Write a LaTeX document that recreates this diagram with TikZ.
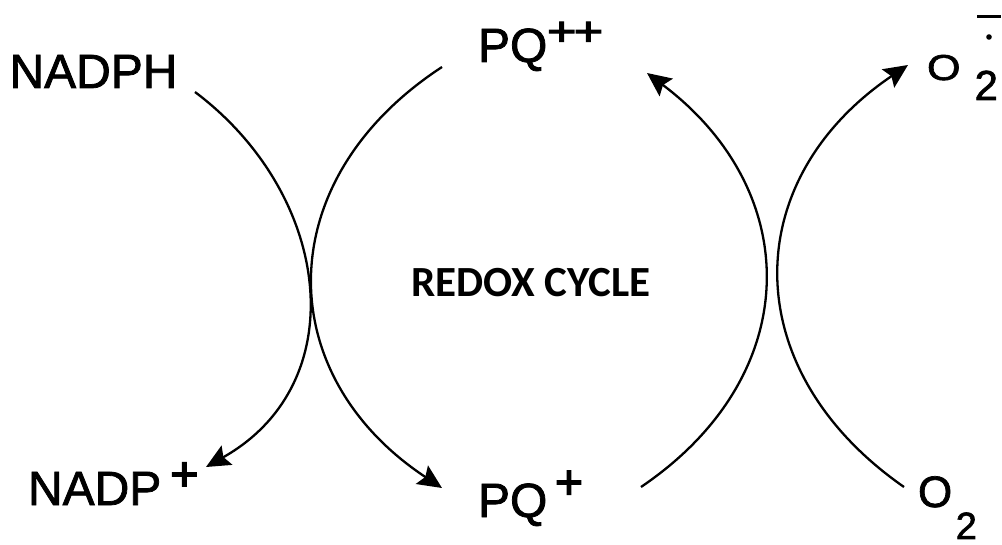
\documentclass[tikz,border=0pt]{standalone}
\usepackage{fontspec}
\setmainfont{Liberation Sans}
\newfontfamily\lab{Liberation Sans}[FakeBold=1.6]
\newfontfamily\labp{Liberation Sans}[FakeBold=3]
\newfontfamily\calib{Carlito}
\usetikzlibrary{arrows.meta}
\begin{document}
\begin{tikzpicture}[x=0.5pt,y=-0.5pt,
  lbl/.style={inner sep=0pt,outer sep=0pt,anchor=base west,font=\lab\fontsize{24}{28}\selectfont},
  arc/.style={line width=1.15pt,black},
  tip/.style={arc,-{Stealth[length=12pt,width=11pt,inset=2pt]}}]
\useasboundingbox (0,0) rectangle (1002,545);
% labels
\node[lbl] (nadph) at (9.5,88) {NADPH};
\node[lbl] (pqpp) at (478,62) {PQ\hspace{0.5pt}\raisebox{8.5pt}{\scalebox{1.25}[1]{\labp\fontsize{20}{20}\selectfont\kern-0.5pt+\kern-1pt+}}};
\node[lbl] (nadpp) at (28,505) {NADP\hspace{4.5pt}\raisebox{7.3pt}{\labp+}};
\node[lbl] (pqp) at (478,517) {PQ\hspace{3.8pt}\raisebox{9.25pt}{\labp+}};
\node[lbl] (o2rad) at (927,80) {\scalebox{1.2}[1]{\fontsize{18}{18}\selectfont O}\hspace{7pt}\raisebox{-10pt}{\fontsize{21}{21}\selectfont 2}};
\node[lbl] (o2) at (918,507) {\fontsize{22}{22}\selectfont O\hspace{1.75pt}\raisebox{-16pt}{\fontsize{19}{19}\selectfont 2}};
\node[inner sep=0pt,anchor=base,font=\calib\bfseries\fontsize{21.5}{24}\selectfont] (redox) at (531,297) {REDOX CYCLE};
% radical anion marks
\draw[line width=1.5pt] (977,16.5) -- (1001,16.5);
\fill (989,37) circle (1.4pt);
% arc end points
\coordinate (a1s) at (195,92);
\coordinate (a1e) at (206,467);
\coordinate (a2s) at (442,67);
\coordinate (a2e) at (442,488);
\coordinate (a3s) at (641,487);
\coordinate (a3e) at (647,73);
\coordinate (a4s) at (904,487);
\coordinate (a4e) at (908,65);
% arcs
\draw[tip] (a1s) .. controls (332,195) and (355,383) .. (a1e);
\draw[tip] (a2s) .. controls (269,180) and (271,375) .. (a2e);
\draw[tip] (a3s) .. controls (805,376) and (805,192) .. (a3e);
\draw[tip] (a4s) .. controls (736,370) and (738,180) .. (a4e);
\end{tikzpicture}
\end{document}
